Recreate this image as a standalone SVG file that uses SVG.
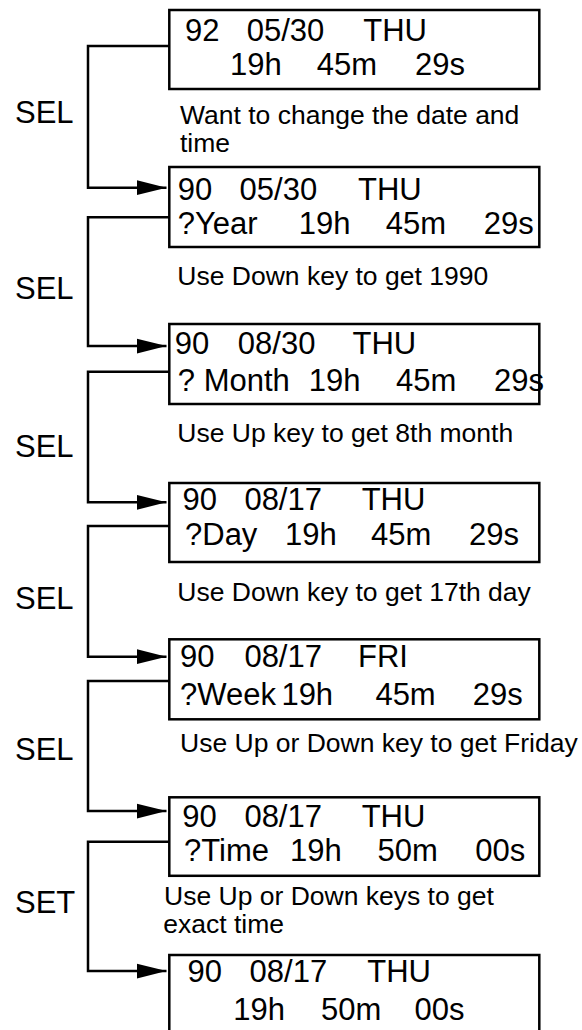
<svg xmlns="http://www.w3.org/2000/svg" width="582" height="1030" viewBox="0 0 582 1030">
<style>
text{font-family:"Liberation Sans",Arial,sans-serif;fill:#000}
.d{font-size:31px}
.c{font-size:26.5px}
.l{font-size:31px}
.box{fill:#fff;stroke:#000;stroke-width:2.5}
.conn{fill:none;stroke:#000;stroke-width:2.5}
</style>
<defs>
<marker id="arr" markerUnits="userSpaceOnUse" markerWidth="30" markerHeight="16" refX="30" refY="8" orient="auto">
<path d="M0,0.5 L30,8 L0,15.5 z" fill="#000"/>
</marker>
</defs>
<rect width="582" height="1030" fill="#fff"/>
<g id="connectors">
<path class="conn" d="M169.3,46 H88 V187.7 H166.5" marker-end="url(#arr)"/>
<path class="conn" d="M169.3,217.3 H88 V346 H166.5" marker-end="url(#arr)"/>
<path class="conn" d="M169.3,371.7 H88 V502.3 H166.5" marker-end="url(#arr)"/>
<path class="conn" d="M169.3,526 H88 V656.7 H166.5" marker-end="url(#arr)"/>
<path class="conn" d="M169.3,681 H88 V811 H166.5" marker-end="url(#arr)"/>
<path class="conn" d="M169.3,841.7 H88 V971 H166.5" marker-end="url(#arr)"/>
</g>
<g id="labels">
<text class="l" x="15" y="123">SEL</text>
<text class="l" x="15" y="299">SEL</text>
<text class="l" x="15" y="456.7">SEL</text>
<text class="l" x="15" y="609">SEL</text>
<text class="l" x="15" y="760">SEL</text>
<text class="l" x="15" y="913">SET</text>
</g>
<g id="box1">
<rect class="box" x="169.3" y="10" width="370" height="79"/>
<text class="d" x="185" y="40.7">92</text><text class="d" x="246.7" y="40.7">05/30</text><text class="d" x="363.3" y="40.7">THU</text>
<text class="d" x="230" y="75">19h</text><text class="d" x="316.7" y="75">45m</text><text class="d" x="415" y="75">29s</text>
</g>
<g id="caption1">
<text class="c" x="180" y="124">Want to change the date and</text>
<text class="c" x="180" y="151.7">time</text>
</g>
<g id="box2">
<rect class="box" x="169.3" y="167" width="370" height="80"/>
<text class="d" x="177.8" y="200">90</text><text class="d" x="239.6" y="200">05/30</text><text class="d" x="358" y="200">THU</text>
<text class="d" x="177.8" y="234">?Year</text><text class="d" x="298.8" y="234">19h</text><text class="d" x="385.8" y="234">45m</text><text class="d" x="483.8" y="234">29s</text>
</g>
<g id="caption2"><text class="c" x="177.3" y="285">Use Down key to get 1990</text></g>
<g id="box3">
<rect class="box" x="169.3" y="324" width="370" height="80"/>
<text class="d" x="174.8" y="354">90</text><text class="d" x="237.8" y="354">08/30</text><text class="d" x="352.5" y="354">THU</text>
<text class="d" x="177.8" y="390.7">? Month</text><text class="d" x="308.8" y="390.7">19h</text><text class="d" x="396" y="390.7">45m</text><text class="d" x="494" y="390.7">29s</text>
</g>
<g id="caption3"><text class="c" x="177.3" y="441.7">Use Up key to get 8th month</text></g>
<g id="box4">
<rect class="box" x="169.3" y="483" width="370" height="79"/>
<text class="d" x="182.5" y="510">90</text><text class="d" x="244.4" y="510">08/17</text><text class="d" x="361.7" y="510">THU</text>
<text class="d" x="185" y="545">?Day</text><text class="d" x="285" y="545">19h</text><text class="d" x="371" y="545">45m</text><text class="d" x="469" y="545">29s</text>
</g>
<g id="caption4"><text class="c" x="177.3" y="600.7">Use Down key to get 17th day</text></g>
<g id="box5">
<rect class="box" x="169.3" y="639.3" width="370" height="80"/>
<text class="d" x="180" y="666.7">90</text><text class="d" x="244.4" y="666.7">08/17</text><text class="d" x="358" y="666.7">FRI</text>
<text class="d" x="180" y="705">?Week</text><text class="d" x="281.4" y="705">19h</text><text class="d" x="375.4" y="705">45m</text><text class="d" x="472.7" y="705">29s</text>
</g>
<g id="caption5"><text class="c" x="180" y="752.3">Use Up or Down key to get Friday</text></g>
<g id="box6">
<rect class="box" x="169.3" y="797.3" width="370" height="78.5"/>
<text class="d" x="182.3" y="827.3">90</text><text class="d" x="244.4" y="827.3">08/17</text><text class="d" x="361.7" y="827.3">THU</text>
<text class="d" x="184" y="860.7">?Time</text><text class="d" x="290" y="860.7">19h</text><text class="d" x="377.6" y="860.7">50m</text><text class="d" x="475.3" y="860.7">00s</text>
</g>
<g id="caption6">
<text class="c" x="164" y="904.5">Use Up or Down keys to get</text>
<text class="c" x="163.3" y="933.3">exact time</text>
</g>
<g id="box7">
<rect class="box" x="169.3" y="955" width="370" height="85"/>
<text class="d" x="187.5" y="981.7">90</text><text class="d" x="249.6" y="981.7">08/17</text><text class="d" x="367.3" y="981.7">THU</text>
<text class="d" x="233.3" y="1020">19h</text><text class="d" x="321" y="1020">50m</text><text class="d" x="414.6" y="1020">00s</text>
</g>
</svg>
